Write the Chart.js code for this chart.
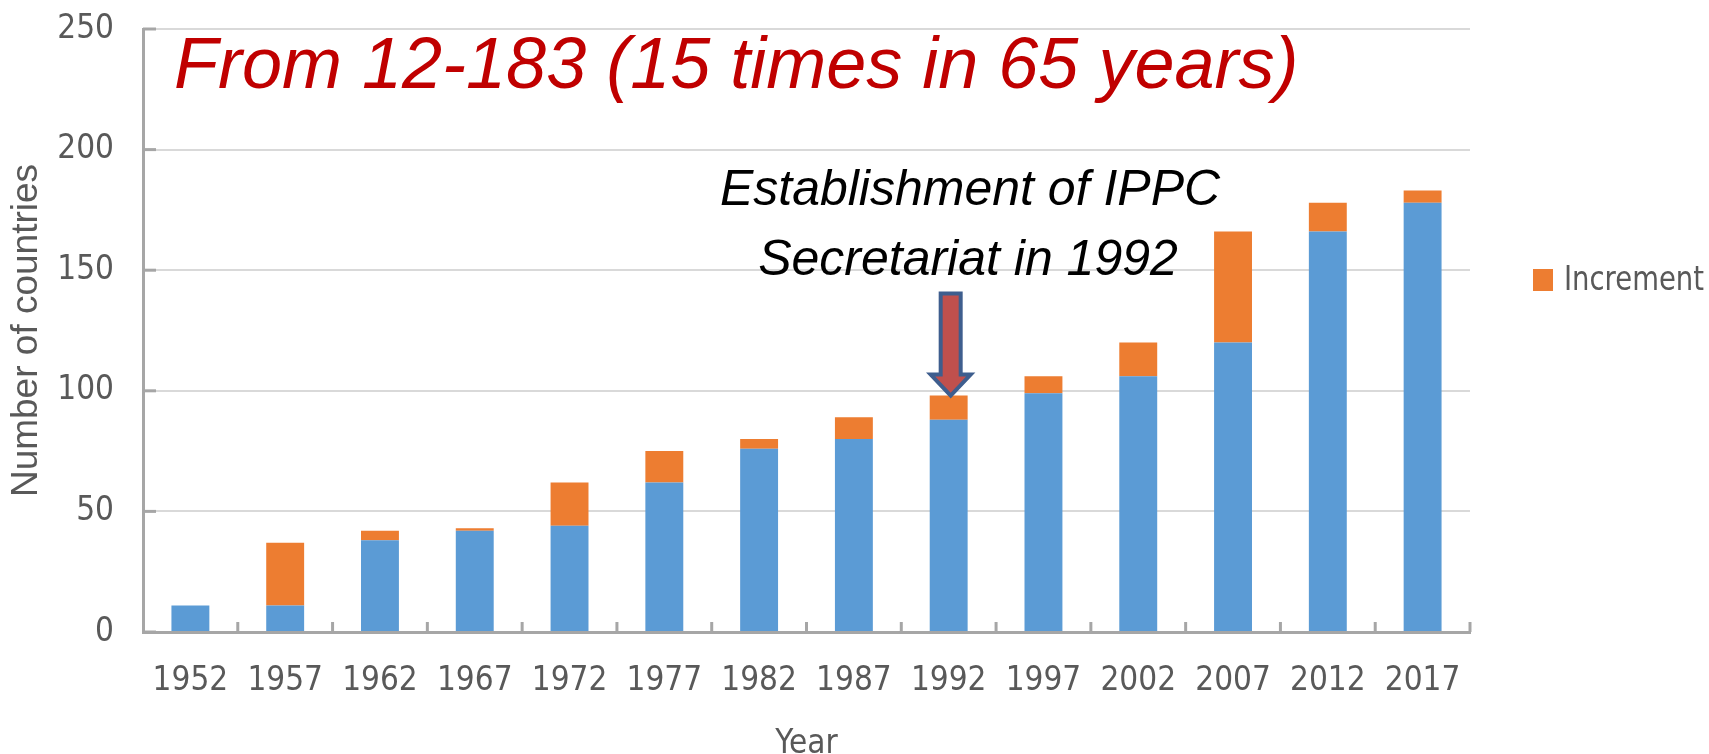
<!DOCTYPE html>
<html>
<head>
<meta charset="utf-8">
<script src="https://cdn.jsdelivr.net/npm/chart.js@4"></script>
<style>
  html, body { margin: 0; padding: 0; background: #fff; }
</style>
</head>
<body>
<canvas id="countries" width="1709" height="754"></canvas>
<script>
'use strict';

const years = ['1952', '1957', '1962', '1967', '1972', '1977', '1982', '1987', '1992', '1997', '2002', '2007', '2012', '2017'];
const previousCount = [11, 11, 38, 42, 44, 62, 76, 80, 88, 99, 106, 120, 166, 178];
const increment = [0, 26, 4, 1, 18, 13, 4, 9, 10, 7, 14, 46, 12, 5];
const headline = 'From 12-183 (15 times in 65 years)';
const note = ['Establishment of IPPC', 'Secretariat in 1992'];
const noteYear = '1992';

const narrow = "'Liberation Sans Narrow', 'DejaVu Sans Condensed', sans-serif";
const grey = '#595959';

const annotations = {
  id: 'annotations',
  afterDraw(chart) {
    const ctx = chart.ctx;
    const area = chart.chartArea;
    const xs = chart.scales.x;
    const ys = chart.scales.y;
    ctx.save();

    // small tick marks pointing into the plot
    ctx.strokeStyle = '#A6A6A6';
    ctx.lineWidth = 3;
    ys.ticks.forEach(t => {
      let py = ys.getPixelForValue(t.value);
      ctx.beginPath();
      ctx.moveTo(area.left, py);
      ctx.lineTo(area.left + 13, py);
      ctx.stroke();
    });
    let half = (xs.getPixelForValue(1) - xs.getPixelForValue(0)) / 2;
    for (let i = 0; i < years.length; i++) {
      let px = xs.getPixelForValue(i) + half;
      ctx.beginPath();
      ctx.moveTo(px, area.bottom);
      ctx.lineTo(px, area.bottom - 10);
      ctx.stroke();
    }

    // headline
    ctx.fillStyle = '#C00000';
    ctx.font = "italic 72px 'Liberation Sans', sans-serif";
    ctx.textAlign = 'left';
    ctx.textBaseline = 'alphabetic';
    ctx.fillText(headline, 174, 88);

    // note
    ctx.fillStyle = '#000';
    ctx.font = "italic 50px 'Liberation Sans', sans-serif";
    ctx.textAlign = 'center';
    ctx.fillText(note[0], 970, 205);
    ctx.fillText(note[1], 968, 275);

    // arrow down to the 1992 bar
    let k = years.indexOf(noteYear);
    let ax = xs.getPixelForValue(k) + 2;
    let tip = ys.getPixelForValue(previousCount[k] + increment[k]);
    let top = tip - 102, neck = tip - 21;
    ctx.beginPath();
    ctx.moveTo(ax - 10, top);
    ctx.lineTo(ax + 10, top);
    ctx.lineTo(ax + 10, neck);
    ctx.lineTo(ax + 20, neck);
    ctx.lineTo(ax, tip);
    ctx.lineTo(ax - 20, neck);
    ctx.lineTo(ax - 10, neck);
    ctx.closePath();
    ctx.fillStyle = '#C0504D';
    ctx.fill();
    ctx.strokeStyle = '#3E5E8E';
    ctx.lineWidth = 4;
    ctx.lineJoin = 'miter';
    ctx.stroke();

    // legend (increment only), text squeezed to the reference width
    let ds = chart.data.datasets[1];
    ctx.fillStyle = ds.backgroundColor;
    ctx.fillRect(1533, 269, 20, 22);
    ctx.fillStyle = grey;
    ctx.font = '34px ' + narrow;
    ctx.textAlign = 'left';
    ctx.textBaseline = 'middle';
    let w = ctx.measureText(ds.label).width;
    let sx = Math.min(1, 140 / w);
    ctx.translate(1564, 281);
    ctx.scale(sx, 1);
    ctx.fillText(ds.label, 0, 0);

    ctx.restore();
  }
};

let ctx = document.getElementById('countries').getContext('2d');
let myChart = new Chart(ctx, {
  type: 'bar',
  data: {
    labels: years,
    datasets: [{
      label: 'Previous',
      data: previousCount,
      backgroundColor: '#5B9BD5'
    }, {
      label: 'Increment',
      data: increment,
      backgroundColor: '#ED7D31'
    }]
  },
  options: {
    responsive: false,
    animation: false,
    layout: { padding: { left: 0, right: 239, top: 29, bottom: 0 } },
    datasets: { bar: { categoryPercentage: 1, barPercentage: 0.4 } },
    plugins: {
      legend: { display: false },
      tooltip: { enabled: false }
    },
    scales: {
      x: {
        stacked: true,
        grid: { display: false, drawTicks: false },
        border: { color: '#A6A6A6', width: 3 },
        ticks: { color: grey, font: { family: narrow, size: 33 }, padding: 30, maxRotation: 0, autoSkip: false },
        title: { display: true, text: 'Year', color: grey, font: { family: narrow, size: 33 }, padding: { top: 0, bottom: -10 } },
        afterFit(scale) {
          scale.height = 122;
          scale.paddingLeft = 0;
          scale.paddingRight = 0;
        }
      },
      y: {
        stacked: true,
        min: 0,
        max: 250,
        ticks: { stepSize: 50, color: grey, font: { family: narrow, size: 33 }, padding: 29 },
        grid: { color: '#D9D9D9', lineWidth: 2, drawTicks: false },
        border: { color: '#A6A6A6', width: 3 },
        title: { display: true, text: 'Number of countries', color: grey, font: { family: "'Liberation Sans', sans-serif", size: 37 }, padding: { top: 5, bottom: 0 } },
        afterFit(scale) {
          scale.width = 143;
          scale.paddingTop = 0;
          scale.paddingBottom = 0;
        }
      }
    }
  },
  plugins: [annotations]
});
</script>
</body>
</html>
